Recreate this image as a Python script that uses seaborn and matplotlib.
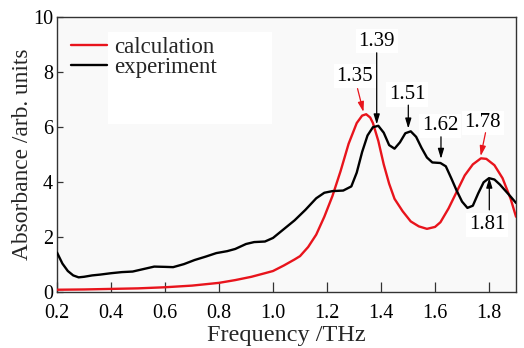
import matplotlib
matplotlib.use("Agg")
import matplotlib.pyplot as plt
import pandas as pd
import seaborn as sns

# Measured absorbance spectrum (experiment)
exp_freq = [0.20, 0.22, 0.24, 0.26, 0.28, 0.30, 0.33, 0.36, 0.40, 0.44, 0.48, 0.52,
            0.56, 0.60, 0.63, 0.67, 0.71, 0.75, 0.79, 0.83, 0.86, 0.90, 0.93, 0.97,
            1.00, 1.04, 1.08, 1.12, 1.16, 1.19, 1.22, 1.26, 1.29, 1.31, 1.33, 1.35,
            1.37, 1.39, 1.41, 1.43, 1.45, 1.47, 1.49, 1.51, 1.53, 1.55, 1.57, 1.59,
            1.62, 1.64, 1.66, 1.68, 1.70, 1.72, 1.74, 1.76, 1.78, 1.80, 1.82, 1.84,
            1.86, 1.88, 1.90]
exp_abs = [1.45, 1.05, 0.78, 0.62, 0.55, 0.57, 0.62, 0.65, 0.70, 0.74, 0.76, 0.85,
           0.94, 0.93, 0.92, 1.03, 1.18, 1.30, 1.43, 1.50, 1.58, 1.76, 1.83, 1.85,
           1.98, 2.30, 2.62, 3.00, 3.42, 3.62, 3.68, 3.70, 3.85, 4.35, 5.10, 5.70,
           6.00, 6.05, 5.80, 5.35, 5.22, 5.45, 5.78, 5.85, 5.65, 5.25, 4.90, 4.72,
           4.70, 4.58, 4.15, 3.70, 3.30, 3.07, 3.15, 3.60, 4.00, 4.15, 4.10, 3.92,
           3.70, 3.48, 3.25]

# Simulated absorbance spectrum (calculation)
calc_freq = [0.20, 0.30, 0.40, 0.50, 0.60, 0.70, 0.80, 0.86, 0.92, 0.97, 1.00, 1.04,
             1.08, 1.10, 1.13, 1.16, 1.19, 1.22, 1.25, 1.28, 1.31, 1.33, 1.345, 1.36,
             1.37, 1.39, 1.41, 1.43, 1.45, 1.48, 1.51, 1.54, 1.57, 1.60, 1.62, 1.65,
             1.68, 1.71, 1.74, 1.77, 1.79, 1.82, 1.85, 1.88, 1.90]
calc_abs = [0.10, 0.11, 0.13, 0.15, 0.19, 0.25, 0.35, 0.45, 0.57, 0.70, 0.78, 0.98,
            1.20, 1.32, 1.65, 2.10, 2.75, 3.50, 4.40, 5.40, 6.15, 6.42, 6.47, 6.35,
            6.15, 5.50, 4.65, 3.95, 3.40, 2.95, 2.58, 2.40, 2.31, 2.38, 2.55, 3.05,
            3.65, 4.25, 4.65, 4.87, 4.85, 4.62, 4.15, 3.40, 2.75]

# Peak labels: (text, colour, text x, text y, arrow tail y, arrow head x, arrow head y)
peak_labels = [
    ("1.35", "#e8141c", 1.303, 7.85, 7.40, 1.335, 6.55),
    ("1.39", "black", 1.384, 9.12, 8.70, 1.384, 6.10),
    ("1.51", "black", 1.497, 7.18, 6.80, 1.501, 5.95),
    ("1.62", "black", 1.618, 6.05, 5.65, 1.622, 4.85),
    ("1.78", "#e8141c", 1.777, 6.16, 5.80, 1.769, 4.95),
    ("1.81", "black", 1.793, 2.45, 3.00, 1.801, 4.17),
]

x_ticks = [0.2, 0.4, 0.6, 0.8, 1.0, 1.2, 1.4, 1.6, 1.8]
y_ticks = [0, 2, 4, 6, 8, 10]

sns.set_theme(style="ticks")
plt.rcParams["font.family"] = ["Liberation Serif", "DejaVu Serif"]

fig = plt.figure(figsize=(5.24, 3.48), dpi=100)
ax = fig.add_axes([0.1088, 0.1595, 0.876, 0.7917])
ax.set_facecolor("#f9f9f9")

df_calc = pd.DataFrame({"freq": calc_freq, "abs": calc_abs})
df_exp = pd.DataFrame({"freq": exp_freq, "abs": exp_abs})

# white panel behind the legend
ax.add_patch(plt.Rectangle((0.111, 0.612), 0.357, 0.333, transform=ax.transAxes,
                           facecolor="white", edgecolor="none", zorder=1))

sns.lineplot(data=df_calc, x="freq", y="abs", ax=ax, color="#e8141c", lw=1.7,
             label="calculation", zorder=3)
sns.lineplot(data=df_exp, x="freq", y="abs", ax=ax, color="black", lw=1.7,
             label="experiment", zorder=4)

for text, col, tx, ty, tail_y, hx, hy in peak_labels:
    ax.text(tx, ty, text, color="black", fontsize=15, ha="center", va="center",
            bbox=dict(facecolor="white", edgecolor="none", pad=2), zorder=2)
    ax.annotate("", xy=(hx, hy), xytext=(hx if col == "black" else tx + 0.01, tail_y),
                arrowprops=dict(arrowstyle="-|>,head_length=0.5,head_width=0.15",
                                color=col, lw=0.9, shrinkA=0, shrinkB=0), zorder=5)

ax.set_xlim(0.2, 1.9)
ax.set_ylim(0, 10)
ax.set_xticks(x_ticks)
ax.set_xticklabels([f"{v:.1f}" for v in x_ticks])
ax.set_yticks(y_ticks)
ax.set_yticklabels([str(v) for v in y_ticks])
ax.tick_params(axis="x", direction="in", length=7, width=0.9, labelsize=14.5,
               pad=8, colors="#333333", labelcolor="black")
ax.tick_params(axis="y", direction="in", length=4, width=0.9, labelsize=14.5,
               pad=3, colors="#333333", labelcolor="black")
for s in ax.spines.values():
    s.set_color("#333333")
    s.set_linewidth(1.0)

ax.set_xlabel("Frequency /THz", fontsize=17.5, labelpad=1.5)
ax.set_ylabel("Absorbance /arb. units", fontsize=16.8, labelpad=0)

leg = ax.legend(loc="upper left", bbox_to_anchor=(-0.005, 0.985), frameon=False,
                fontsize=16.5, handlelength=1.6, handletextpad=0.3,
                labelspacing=-0.05, borderaxespad=0.3)
leg.set_zorder(6)

fig.savefig("out.png", dpi=100, facecolor="white")
